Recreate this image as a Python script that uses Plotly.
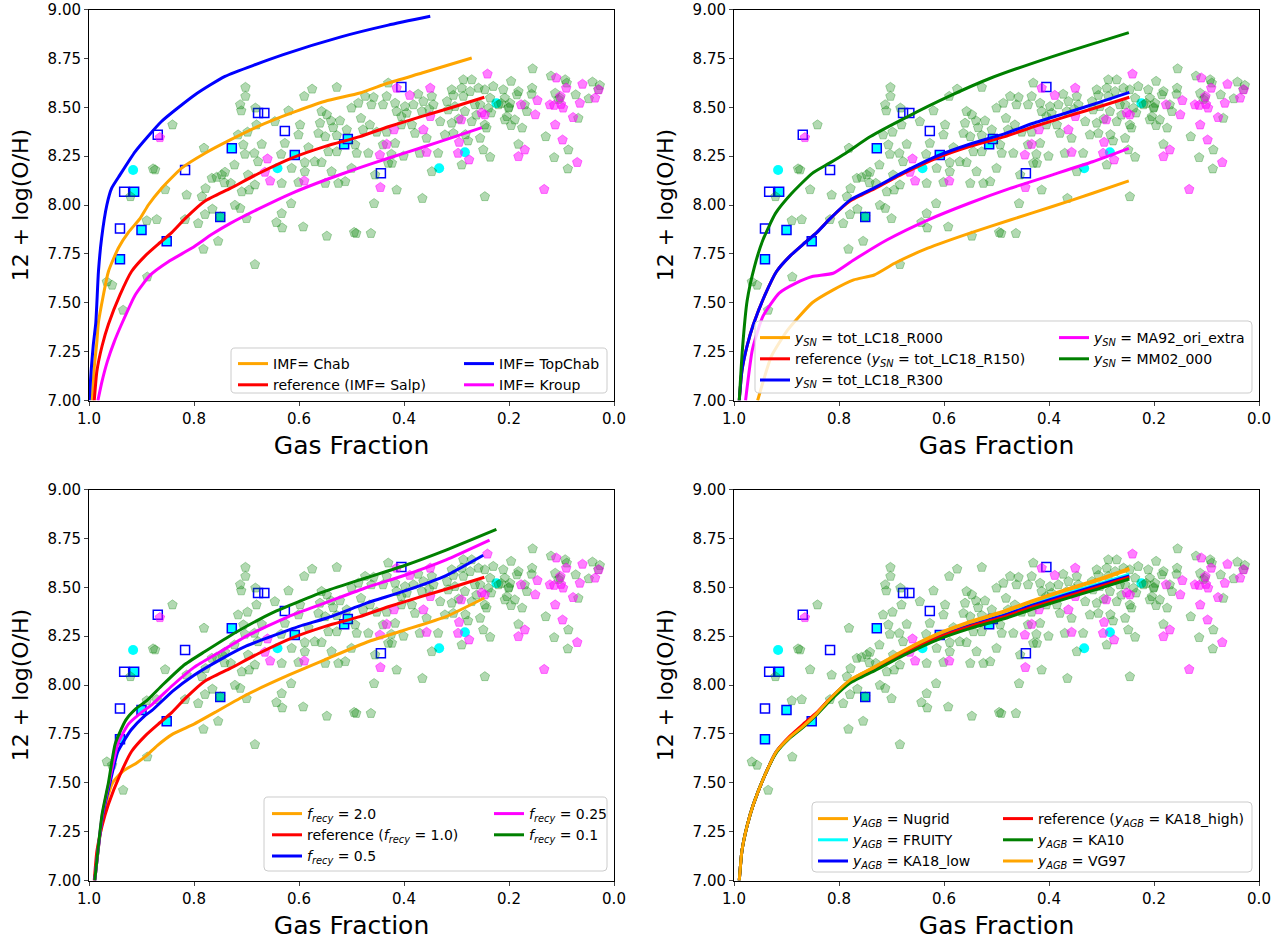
import plotly.graph_objects as go

# ---------------- observational data (same in every panel) ----------------
green_f = [0.841, 0.781, 0.878, 0.874, 0.855, 0.921, 0.890, 0.871, 0.817, 0.792, 0.814, 0.785, 0.778,
           0.766, 0.757, 0.747, 0.741, 0.742, 0.779, 0.765, 0.754, 0.782, 0.889, 0.966, 0.956, 0.935, 0.750,
           0.702, 0.702, 0.575, 0.528, 0.590, 0.712, 0.710, 0.683, 0.620, 0.598, 0.601, 0.646, 0.681, 0.716,
           0.698, 0.706, 0.671, 0.627, 0.703, 0.685, 0.723, 0.678, 0.634, 0.614, 0.589, 0.582, 0.570, 0.557,
           0.589, 0.557, 0.547, 0.539, 0.522, 0.560, 0.535, 0.509, 0.563, 0.550, 0.528, 0.500, 0.544, 0.528,
           0.538, 0.550, 0.525, 0.512, 0.500, 0.730, 0.697, 0.684, 0.709, 0.695, 0.633, 0.601, 0.615, 0.722,
           0.712, 0.700, 0.633, 0.643, 0.632, 0.592, 0.547, 0.495, 0.684,
           0.430, 0.482, 0.487, 0.474, 0.458, 0.462, 0.440, 0.433, 0.417, 0.414, 0.398, 0.405, 0.382, 0.373,
           0.363, 0.347, 0.344, 0.366, 0.385, 0.405, 0.331, 0.309, 0.306, 0.287, 0.271, 0.290, 0.274, 0.258,
           0.246, 0.287, 0.303, 0.316, 0.265, 0.255, 0.284, 0.271, 0.309, 0.246, 0.322, 0.306, 0.278, 0.255,
           0.249, 0.290, 0.493, 0.478, 0.465, 0.452, 0.433, 0.379, 0.357, 0.490, 0.468, 0.440, 0.417, 0.424,
           0.401, 0.370, 0.335, 0.455, 0.430, 0.423, 0.347, 0.414, 0.365, 0.457, 0.246, 0.491, 0.463,
           0.352, 0.395, 0.318, 0.296, 0.262, 0.283,
           0.155, 0.230, 0.211, 0.196, 0.182, 0.156, 0.157, 0.120, 0.093, 0.090, 0.112, 0.073, 0.041, 0.027,
           0.048, 0.030, 0.236, 0.239, 0.220, 0.208, 0.198, 0.185, 0.170, 0.166, 0.201, 0.204, 0.208, 0.189,
           0.234, 0.196, 0.175, 0.243, 0.182, 0.130, 0.236, 0.114, 0.087, 0.088, 0.068, 0.103, 0.106, 0.215,
           0.200]
green_v = [8.410, 8.291, 8.185, 8.180, 8.079, 8.043, 7.920, 7.926, 7.926, 7.906, 8.051, 8.043, 8.085,
           8.137, 8.142, 8.154, 8.168, 8.114, 7.952, 7.979, 7.815, 7.774, 7.632, 7.607, 7.590, 7.462, 7.940,
           8.602, 8.556, 8.593, 8.602, 8.556, 8.513, 8.482, 8.496, 8.482, 8.410, 8.359, 8.427, 8.410, 8.359,
           8.373, 8.308, 8.311, 8.316, 8.260, 8.265, 8.205, 8.222, 8.260, 8.188, 8.171, 8.294, 8.222, 8.218,
           8.218, 8.479, 8.462, 8.431, 8.431, 8.419, 8.396, 8.385, 8.367, 8.350, 8.356, 8.496, 8.273, 8.273,
           8.171, 8.111, 8.111, 8.120, 8.188, 8.111, 8.154, 8.103, 8.068, 8.077, 8.111, 8.116, 8.008, 7.999,
           7.983, 7.931, 7.957, 7.911, 7.883, 7.888, 7.841, 7.860, 7.696,
           8.624, 8.444, 8.521, 8.556, 8.551, 8.513, 8.513, 8.556, 8.521, 8.479, 8.504, 8.453, 8.513, 8.567,
           8.530, 8.556, 8.513, 8.479, 8.410, 8.410, 8.427, 8.590, 8.561, 8.641, 8.641, 8.598, 8.581, 8.598,
           8.590, 8.556, 8.504, 8.487, 8.513, 8.513, 8.479, 8.427, 8.419, 8.410, 8.359, 8.367, 8.328, 8.342,
           8.282, 8.205, 8.308, 8.385, 8.410, 8.373, 8.373, 8.367, 8.342, 8.265, 8.265, 8.308, 8.316, 8.260,
           8.250, 8.265, 8.265, 8.154, 8.214, 8.214, 8.171, 8.077, 8.034, 8.008, 8.043, 7.855, 7.855,
           8.490, 8.470, 8.530, 8.440, 8.460, 8.360,
           8.697, 8.607, 8.590, 8.633, 8.581, 8.598, 8.567, 8.660, 8.641, 8.624, 8.572, 8.564, 8.629, 8.612,
           8.544, 8.590, 8.547, 8.496, 8.513, 8.547, 8.521, 8.564, 8.513, 8.479, 8.496, 8.453, 8.436, 8.436,
           8.471, 8.407, 8.394, 8.394, 8.311, 8.350, 8.245, 8.243, 8.282, 8.185, 8.444, 8.547, 8.540, 8.520,
           8.500]

magenta_f = [0.865, 0.660, 0.665, 0.655, 0.590, 0.414, 0.389, 0.350, 0.241, 0.350, 0.419, 0.363, 0.291,
             0.252, 0.433, 0.446, 0.357, 0.295, 0.297, 0.276, 0.445, 0.110, 0.091, 0.060, 0.029, 0.036,
             0.146, 0.177, 0.122, 0.114, 0.101, 0.097, 0.065, 0.102, 0.150, 0.078, 0.112, 0.098, 0.170,
             0.182, 0.070, 0.133, 0.246]
magenta_v = [8.345, 8.236, 8.168, 8.123, 8.123, 8.598, 8.561, 8.598, 8.670, 8.453, 8.385, 8.385, 8.436,
             8.471, 8.311, 8.256, 8.270, 8.321, 8.265, 8.231, 8.090, 8.650, 8.598, 8.618, 8.590, 8.547,
             8.535, 8.513, 8.513, 8.510, 8.515, 8.496, 8.521, 8.556, 8.462, 8.448, 8.410, 8.333, 8.282,
             8.248, 8.218, 8.080, 8.462]

cyan_f = [0.916, 0.641, 0.284, 0.333, 0.224]
cyan_v = [8.179, 8.188, 8.270, 8.188, 8.521]

opensq_f = [0.869, 0.817, 0.933, 0.941, 0.678, 0.666, 0.627, 0.405, 0.444]
opensq_v = [8.359, 8.179, 8.068, 7.880, 8.471, 8.471, 8.379, 8.603, 8.162]

fillsq_f = [0.914, 0.900, 0.852, 0.941, 0.750, 0.728, 0.608, 0.514, 0.507]
fillsq_v = [8.068, 7.872, 7.815, 7.723, 7.938, 8.290, 8.256, 8.311, 8.338]

# ---------------- model tracks ----------------
ref_f = [0.990, 0.985, 0.975, 0.963, 0.941, 0.919, 0.893, 0.868, 0.842, 0.817, 0.779, 0.731, 0.678,
         0.614, 0.550, 0.484, 0.430, 0.366, 0.303, 0.247]
ref_v = [7.00, 7.15, 7.28, 7.39, 7.54, 7.66, 7.74, 7.80, 7.86, 7.93, 8.02, 8.085, 8.16, 8.24, 8.30,
         8.35, 8.40, 8.453, 8.504, 8.551]

# panel 1: IMF
chab_f = [0.994, 0.990, 0.985, 0.982, 0.963, 0.944, 0.925, 0.903, 0.887, 0.862, 0.823, 0.779, 0.731,
          0.678, 0.614, 0.550, 0.484, 0.430, 0.366, 0.271]
chab_v = [7.00, 7.17, 7.30, 7.40, 7.66, 7.78, 7.86, 7.93, 8.00, 8.085, 8.19, 8.265, 8.333, 8.402,
          8.471, 8.531, 8.573, 8.624, 8.675, 8.752]
topchab_f = [0.9995, 0.996, 0.992, 0.987, 0.982, 0.976, 0.966, 0.957, 0.941, 0.912, 0.862, 0.798, 0.741,
             0.630, 0.520, 0.430, 0.350]
topchab_v = [7.00, 7.15, 7.28, 7.40, 7.66, 7.83, 8.00, 8.085, 8.154, 8.273, 8.427, 8.564, 8.658,
             8.769, 8.86, 8.92, 8.965]
kroup_f = [0.983, 0.975, 0.965, 0.952, 0.938, 0.912, 0.884, 0.849, 0.804, 0.766, 0.731, 0.678, 0.614,
           0.550, 0.484, 0.430, 0.366, 0.303, 0.252]
kroup_v = [7.00, 7.10, 7.20, 7.30, 7.39, 7.54, 7.64, 7.71, 7.78, 7.85, 7.906, 7.979, 8.06, 8.128,
           8.191, 8.239, 8.294, 8.35, 8.396]

# panel 2: SN yields
r000_f = [0.955, 0.929, 0.898, 0.851, 0.811, 0.772, 0.733, 0.694, 0.631, 0.552, 0.474, 0.395, 0.317, 0.248]
r000_v = [7.00, 7.225, 7.36, 7.50, 7.566, 7.617, 7.642, 7.702, 7.779, 7.855, 7.923, 7.991, 8.06, 8.123]
r300_v = [7.00, 7.15, 7.28, 7.39, 7.54, 7.66, 7.74, 7.80, 7.86, 7.93, 8.025, 8.09, 8.167, 8.25, 8.312,
          8.365, 8.418, 8.472, 8.526, 8.576]
ma92_f = [0.978, 0.965, 0.945, 0.914, 0.882, 0.851, 0.811, 0.772, 0.709, 0.631, 0.552, 0.474, 0.395,
          0.317, 0.248]
ma92_v = [7.00, 7.26, 7.43, 7.549, 7.60, 7.634, 7.651, 7.719, 7.821, 7.923, 8.009, 8.085, 8.153, 8.221, 8.29]
mm02_f = [0.990, 0.984, 0.975, 0.961, 0.945, 0.921, 0.890, 0.851, 0.819, 0.788, 0.741, 0.670, 0.592,
          0.513, 0.395, 0.248]
mm02_v = [7.00, 7.26, 7.51, 7.685, 7.821, 7.957, 8.06, 8.162, 8.213, 8.264, 8.349, 8.451, 8.554,
          8.647, 8.758, 8.882]

# panel 3: f_recy
fr20_f = [0.989, 0.979, 0.967, 0.955, 0.935, 0.910, 0.890, 0.870, 0.840, 0.800, 0.760, 0.700, 0.620,
          0.550, 0.470, 0.400, 0.320, 0.247]
fr20_v = [7.00, 7.23, 7.40, 7.50, 7.56, 7.60, 7.64, 7.69, 7.75, 7.80, 7.86, 7.95, 8.05, 8.13, 8.22,
          8.28, 8.35, 8.445]
fr05_f = [0.989, 0.975, 0.960, 0.945, 0.920, 0.895, 0.880, 0.840, 0.800, 0.750, 0.700, 0.600, 0.550,
          0.470, 0.400, 0.320, 0.249]
fr05_v = [7.00, 7.32, 7.50, 7.66, 7.77, 7.84, 7.87, 7.97, 8.05, 8.13, 8.20, 8.30, 8.34, 8.42, 8.48,
          8.56, 8.664]
fr025_f = [0.989, 0.975, 0.962, 0.945, 0.925, 0.900, 0.880, 0.840, 0.800, 0.750, 0.700, 0.620, 0.550,
           0.470, 0.400, 0.320, 0.237]
fr025_v = [7.00, 7.33, 7.50, 7.70, 7.80, 7.86, 7.90, 8.00, 8.09, 8.17, 8.25, 8.35, 8.42, 8.50, 8.56,
           8.64, 8.741]
fr01_f = [0.989, 0.975, 0.963, 0.950, 0.930, 0.910, 0.890, 0.860, 0.820, 0.780, 0.720, 0.650, 0.550,
          0.470, 0.400, 0.320, 0.224]
fr01_v = [7.00, 7.34, 7.50, 7.70, 7.82, 7.88, 7.92, 8.00, 8.10, 8.17, 8.27, 8.37, 8.48, 8.55, 8.61,
          8.69, 8.796]

# panel 4: AGB yields (sampled on ref_f)
nugrid_v = [7.00, 7.15, 7.28, 7.39, 7.54, 7.66, 7.735, 7.79, 7.855, 7.93, 8.025, 8.095, 8.175, 8.26,
            8.325, 8.38, 8.433, 8.49, 8.544, 8.596]
fruity_v = [7.00, 7.15, 7.28, 7.39, 7.54, 7.66, 7.735, 7.79, 7.855, 7.93, 8.022, 8.09, 8.168, 8.25,
            8.312, 8.364, 8.416, 8.47, 8.52, 8.567]
ka18low_v = [7.00, 7.15, 7.28, 7.39, 7.54, 7.66, 7.735, 7.79, 7.855, 7.928, 8.02, 8.087, 8.164, 8.245,
             8.306, 8.358, 8.409, 8.463, 8.513, 8.558]
ka10_v = [7.00, 7.15, 7.28, 7.39, 7.54, 7.655, 7.73, 7.785, 7.85, 7.92, 8.01, 8.075, 8.15, 8.23, 8.29,
          8.34, 8.39, 8.443, 8.494, 8.542]
vg97_v = [7.00, 7.15, 7.28, 7.39, 7.54, 7.66, 7.735, 7.79, 7.855, 7.93, 8.025, 8.093, 8.172, 8.256,
          8.32, 8.375, 8.428, 8.485, 8.538, 8.590]

x_ticks = [1.0, 0.8, 0.6, 0.4, 0.2, 0.0]
y_ticks = [7.00, 7.25, 7.50, 7.75, 8.00, 8.25, 8.50, 8.75, 9.00]

ORANGE, RED, BLUE, MAG, GRN, CYAN = "#FFA500", "#FF0000", "#0000FF", "#FF00FF", "#008000", "#00FFFF"

W, H = 1286, 943
# axes boxes in pixels: (left, right, top, bottom)
boxes = [(89, 614, 9.5, 400.5), (734, 1259, 9.5, 400.5), (89, 614, 489.5, 880.5), (734, 1259, 489.5, 880.5)]
# legend frames in pixels: (left, right, top, bottom)
frames = [(231, 607, 348, 393), (755, 1252, 321, 393), (264, 607, 797, 871), (812, 1252, 802, 872)]
# legend columns: (handle x, first row centre y) for column 1 and column 2
columns = [[(239, 360), (465, 360)], [(761, 334), (1060, 334)],
           [(273, 810), (495, 810)], [(819, 815), (1004, 815)]]

fig = go.Figure()
FONT = "DejaVu Sans, Arial, sans-serif"

def sub(i):
    return "" if i == 0 else str(i + 1)

def add_obs(i):
    xa, ya = "x" + sub(i), "y" + sub(i)
    fig.add_trace(go.Scatter(x=cyan_f, y=cyan_v, mode="markers", xaxis=xa, yaxis=ya, showlegend=False,
                             marker=dict(symbol="circle", size=10, color=CYAN, line=dict(width=0))))
    fig.add_trace(go.Scatter(x=fillsq_f, y=fillsq_v, mode="markers", xaxis=xa, yaxis=ya, showlegend=False,
                             marker=dict(symbol="square", size=9, color=CYAN, line=dict(width=1.5, color=BLUE))))
    fig.add_trace(go.Scatter(x=opensq_f, y=opensq_v, mode="markers", xaxis=xa, yaxis=ya, showlegend=False,
                             marker=dict(symbol="square", size=9, color="rgba(0,0,0,0)",
                                         line=dict(width=1.5, color=BLUE))))
    fig.add_trace(go.Scatter(x=green_f, y=green_v, mode="markers", xaxis=xa, yaxis=ya, showlegend=False,
                             marker=dict(symbol="pentagon", size=10, color="rgba(0,128,0,0.3)",
                                         line=dict(width=1, color="rgba(0,128,0,0.3)"))))
    fig.add_trace(go.Scatter(x=magenta_f, y=magenta_v, mode="markers", xaxis=xa, yaxis=ya, showlegend=False,
                             marker=dict(symbol="pentagon", size=10, color="rgba(255,0,255,0.5)",
                                         line=dict(width=1, color="rgba(255,0,255,0.5)"))))

def add_line(i, x, y, color, name, col, width=3):
    lid = 2 * i + col
    fig.add_trace(go.Scatter(x=x, y=y, mode="lines", xaxis="x" + sub(i), yaxis="y" + sub(i),
                             line=dict(color=color, width=width, shape="spline", smoothing=0.5), name=name,
                             legend="legend" + sub(lid)))

ySN = "<i>y</i><sub><i>SN</i></sub>"
fre = "<i>f</i><sub><i>recy</i></sub>"
yAGB = "<i>y</i><sub><i>AGB</i></sub>"

panels = [
    [(chab_f, chab_v, ORANGE, "IMF= Chab", 0), (ref_f, ref_v, RED, "reference (IMF= Salp)", 0),
     (topchab_f, topchab_v, BLUE, "IMF= TopChab", 1), (kroup_f, kroup_v, MAG, "IMF= Kroup", 1)],
    [(r000_f, r000_v, ORANGE, ySN + " = tot_LC18_R000", 0),
     (ref_f, ref_v, RED, "reference (" + ySN + " = tot_LC18_R150)", 0),
     (ref_f, r300_v, BLUE, ySN + " = tot_LC18_R300", 0),
     (ma92_f, ma92_v, MAG, ySN + " = MA92_ori_extra", 1), (mm02_f, mm02_v, GRN, ySN + " = MM02_000", 1)],
    [(fr20_f, fr20_v, ORANGE, fre + " = 2.0", 0), (ref_f, ref_v, RED, "reference (" + fre + " = 1.0)", 0),
     (fr05_f, fr05_v, BLUE, fre + " = 0.5", 0),
     (fr025_f, fr025_v, MAG, fre + " = 0.25", 1), (fr01_f, fr01_v, GRN, fre + " = 0.1", 1)],
    [(ref_f, nugrid_v, ORANGE, yAGB + " = Nugrid", 0), (ref_f, fruity_v, CYAN, yAGB + " = FRUITY", 0),
     (ref_f, ka18low_v, BLUE, yAGB + " = KA18_low", 0),
     (ref_f, ref_v, RED, "reference (" + yAGB + " = KA18_high)", 1), (ref_f, ka10_v, GRN, yAGB + " = KA10", 1),
     (ref_f, vg97_v, ORANGE, yAGB + " = VG97", 1)],
]

for i, lines in enumerate(panels):
    add_obs(i)
    for (x, y, c, n, col) in lines:
        add_line(i, x, y, c, n, col)

layout = dict(width=W, height=H, margin=dict(l=0, r=0, t=0, b=0), plot_bgcolor="white",
              paper_bgcolor="white", font=dict(family=FONT, color="black", size=14), shapes=[])
for i, (l, r, t, b) in enumerate(boxes):
    layout["xaxis" + sub(i)] = dict(domain=[l / W, r / W], range=[1.0, 0.0], tickvals=x_ticks,
                                    ticktext=["%.1f" % v for v in x_ticks], ticks="outside", ticklen=4,
                                    showline=True, mirror=True, linecolor="black", linewidth=1,
                                    showgrid=False, zeroline=False, anchor="y" + sub(i), automargin=False,
                                    tickfont=dict(size=15), title=dict(text="Gas Fraction",
                                    font=dict(size=25), standoff=9))
    layout["yaxis" + sub(i)] = dict(domain=[1 - b / H, 1 - t / H], range=[7.0, 9.0], tickvals=y_ticks,
                                    ticktext=["%.2f" % v for v in y_ticks], ticks="outside", ticklen=4,
                                    showline=True, mirror=True, linecolor="black", linewidth=1,
                                    showgrid=False, zeroline=False, anchor="x" + sub(i), automargin=False,
                                    tickfont=dict(size=15), title=dict(text="12 + log(O/H)",
                                    font=dict(size=22), standoff=12))
    # legend frame (rounded rectangle)
    fl, fr, ft, fb = frames[i]
    rr = 4
    px = lambda v: "%.5f" % (v / W)
    py = lambda v: "%.5f" % (1 - v / H)
    path = ("M%s,%s L%s,%s Q%s,%s %s,%s L%s,%s Q%s,%s %s,%s L%s,%s Q%s,%s %s,%s L%s,%s Q%s,%s %s,%s Z" % (
        px(fl + rr), py(ft), px(fr - rr), py(ft), px(fr), py(ft), px(fr), py(ft + rr),
        px(fr), py(fb - rr), px(fr), py(fb), px(fr - rr), py(fb),
        px(fl + rr), py(fb), px(fl), py(fb), px(fl), py(fb - rr),
        px(fl), py(ft + rr), px(fl), py(ft), px(fl + rr), py(ft)))
    layout["shapes"].append(dict(type="path", path=path, xref="paper", yref="paper", layer="above",
                                 fillcolor="rgba(255,255,255,0.8)", line=dict(color="#cccccc", width=1)))
    for c in range(2):
        hx, hy = columns[i][c]
        layout["legend" + sub(2 * i + c)] = dict(x=(hx - 6) / W, y=1 - (hy - 12) / H, xanchor="left",
                                                 yanchor="top", orientation="v", bgcolor="rgba(0,0,0,0)",
                                                 borderwidth=0, font=dict(size=14), itemwidth=30)
fig.update_layout(**layout)
fig.write_html("out.html", config={"displayModeBar": False},
               post_script="document.body.style.margin='0';document.body.style.overflow='hidden';")
